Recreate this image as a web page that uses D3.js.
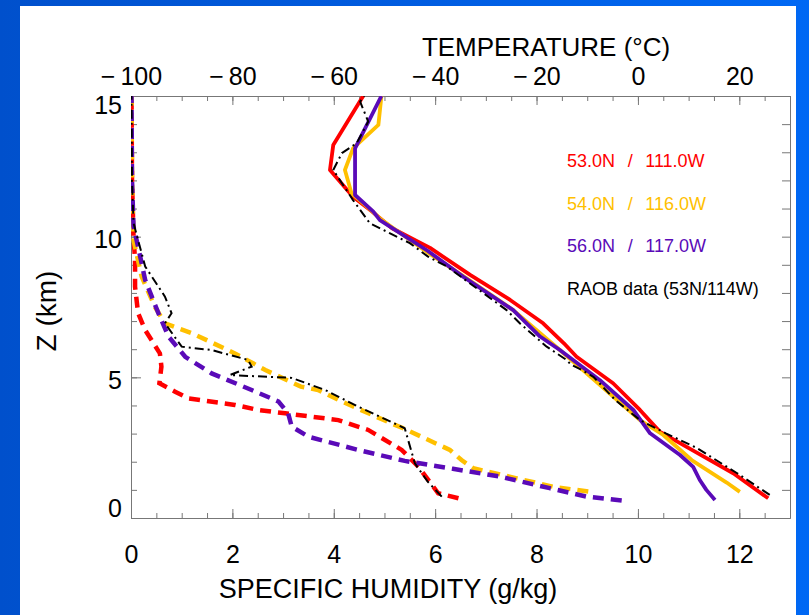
<!DOCTYPE html>
<html>
<head>
<meta charset="utf-8">
<script src="https://cdn.jsdelivr.net/npm/d3@7"></script>
<style>
body { margin: 0; background: #0058d8; }
text { font-family: "Liberation Sans", Arial, sans-serif; }
</style>
</head>
<body>
<div id="chart"></div>
<script>
// temperature profiles [T (C), Z (km)]
var tempRed = [[25.7,0.70],[18.8,1.59],[9.6,2.53],[4.3,3.07],[0.4,3.84],[-4.9,4.79],[-12.1,5.73],[-14.6,6.21],[-18.7,6.92],[-25.2,7.75],[-33.1,8.64],[-41,9.6],[-48.5,10.3],[-52.5,10.9],[-56.2,11.42],[-60.75,12.37],[-60.1,13.26],[-54.2,15.0]];
var tempOrange = [[20.1,0.93],[17.5,1.26],[10.6,2.06],[5.0,2.95],[0.4,3.48],[-8.6,4.9],[-15.4,5.97],[-24.6,7.39],[-34.3,8.58],[-42,9.5],[-50.5,10.59],[-53,11.0],[-56.5,11.54],[-57.8,12.37],[-56.2,13.14],[-51.2,13.97],[-50.6,15.0]];
var tempPurple = [[15.2,0.64],[13.5,1.0],[12.2,1.35],[10.9,1.82],[8.3,2.24],[2.4,3.01],[-0.9,3.84],[-7.5,4.9],[-15.4,5.97],[-19.3,6.45],[-24.6,7.39],[-34.5,8.58],[-41.5,9.5],[-50.9,10.59],[-52.2,10.89],[-55.8,11.48],[-55.8,13.14],[-50.6,15.0]];
var tempRaob = [[26,0.82],[19.5,1.6],[11.5,2.5],[5.5,3.01],[0.4,3.48],[-4.5,4.2],[-8.8,5.02],[-11.5,5.3],[-13.2,5.45],[-14.1,5.62],[-18,6.09],[-23.3,6.92],[-25.9,7.39],[-37.7,8.94],[-41.4,9.29],[-45,9.77],[-52.9,10.48],[-56.2,11.3],[-60.1,12.37],[-58.4,12.97],[-55.5,13.32],[-53.2,14.09],[-54.8,14.8],[-54,15.0]];

// specific humidity profiles [q (g/kg), Z (km)]
var humRed = [[6.46,0.70],[6.06,0.88],[5.67,1.82],[5.34,2.42],[4.68,3.13],[4.09,3.48],[3.04,3.72],[2.51,3.84],[2.05,4.02],[1.13,4.25],[0.87,4.49],[0.56,4.79],[0.6,5.38],[0.57,5.85],[0.28,6.68],[0.14,7.28],[0.08,8.22],[0.08,9.17],[0.05,10],[0.02,12],[0.01,15]];
var humOrange = [[9.02,0.94],[8.33,1.11],[7.61,1.41],[6.75,1.77],[6.52,2.06],[6.29,2.42],[5.8,2.83],[5.37,3.19],[5.14,3.36],[4.16,4.14],[3.69,4.55],[3.35,4.67],[2.65,5.26],[2.05,5.85],[1.2,6.57],[0.67,6.92],[0.47,7.51],[0.21,8.58],[0.05,9.88],[0.02,12],[0.01,15]];
var humPurple = [[9.68,0.62],[8.99,0.76],[8.26,1.06],[7.28,1.47],[6.35,1.75],[5.4,2.03],[4.48,2.42],[3.5,2.89],[3.17,3.25],[3.10,3.72],[2.91,4.14],[2.38,4.55],[1.59,5.14],[1.07,5.73],[0.74,6.45],[0.54,7.28],[0.28,8.46],[0.14,9.64],[0.05,10.36],[0.02,12],[0.01,15]];
var humRaob = [[6.13,0.76],[5.85,1.3],[5.6,1.94],[5.4,3.19],[4.48,3.96],[3.83,4.55],[3.17,4.98],[2.71,5.02],[1.95,5.08],[2.38,5.38],[2.31,5.62],[1.59,5.97],[1.0,6.09],[0.67,6.92],[0.8,7.28],[0.67,7.87],[0.28,8.94],[0.05,10.48],[0.02,12],[0.01,15]];

var legendLabels = ["53.0N\u2002\u2009/\u2002\u2009111.0W", "54.0N\u2002\u2009/\u2002\u2009116.0W", "56.0N\u2002\u2009/\u2002\u2009117.0W", "RAOB data (53N/114W)"];
var seriesColors = ["#ff0000", "#ffc000", "#5a0ab8", "#000000"];

var qTicks = [0, 2, 4, 6, 8, 10, 12];
var tTicks = [-100, -80, -60, -40, -20, 0, 20];
var zTicks = [0, 5, 10, 15];

var W = 809, H = 615;
var svg = d3.select("#chart").append("svg")
    .attr("width", W).attr("height", H);

// slide background
var grad = svg.append("defs").append("linearGradient").attr("id", "bg");
grad.append("stop").attr("offset", "0").attr("stop-color", "#0050cc");
grad.append("stop").attr("offset", "1").attr("stop-color", "#0068f4");
svg.append("rect").attr("width", W).attr("height", H).attr("fill", "url(#bg)");
svg.append("rect").attr("x", 20).attr("y", 6).attr("width", 776).attr("height", H - 6).attr("fill", "#fff");

// scales
var x = d3.scaleLinear().domain([0, 13]).range([131, 790]);
var t = d3.scaleLinear().domain([-100, 30]).range([131, 790]);
var y = d3.scaleLinear().domain([0, 15]).range([518, 96]);

var fmt = function(d) { return d < 0 ? "\u2212\u2009" + Math.abs(d) : d; };

function styleAxis(g) {
  g.select(".domain").attr("stroke", "#777").attr("stroke-width", 1);
  g.selectAll(".tick line").attr("stroke", "#777");
  g.selectAll("text").attr("fill", "#000").attr("font-family", "Liberation Sans, Arial, sans-serif");
}

// bottom axis
svg.append("g").attr("transform", "translate(0,518)")
  .call(d3.axisBottom(x).tickValues(d3.range(0, 13.01, 0.5)).tickSize(-5).tickSizeOuter(0).tickFormat(""))
  .call(styleAxis);
svg.append("g").attr("transform", "translate(0,518)")
  .call(d3.axisBottom(x).tickValues(qTicks).tickSize(-9).tickSizeOuter(0).tickPadding(27).tickFormat(fmt))
  .call(styleAxis)
  .selectAll("text").attr("font-size", 25);

// top axis
svg.append("g").attr("transform", "translate(0,96)")
  .call(d3.axisTop(t).tickValues(d3.range(-100, 30.1, 5)).tickSize(-5).tickSizeOuter(0).tickFormat(""))
  .call(styleAxis);
svg.append("g").attr("transform", "translate(0,96)")
  .call(d3.axisTop(t).tickValues(tTicks).tickSize(-9).tickSizeOuter(0).tickPadding(11).tickFormat(fmt))
  .call(styleAxis)
  .selectAll("text").attr("font-size", 25);

// left axis
svg.append("g").attr("transform", "translate(131,0)")
  .call(d3.axisLeft(y).tickValues(d3.range(0, 15.1, 1)).tickSize(-6).tickSizeOuter(0).tickFormat(""))
  .call(styleAxis);
svg.append("g").attr("transform", "translate(131,0)")
  .call(d3.axisLeft(y).tickValues(zTicks).tickSize(-10).tickSizeOuter(0).tickPadding(9))
  .call(styleAxis)
  .selectAll("text").attr("font-size", 25)
  .attr("y", function(d) { return Math.min(Math.max(y(d) + 3, 105), 508) - y(d); });

// right axis
svg.append("g").attr("transform", "translate(790,0)")
  .call(d3.axisRight(y).tickValues(d3.range(0, 15.1, 1)).tickSize(-8).tickSizeOuter(0).tickFormat(""))
  .call(styleAxis);

// axis titles
svg.append("text").attr("x", 546).attr("y", 56).attr("text-anchor", "middle")
  .attr("font-size", 26).text("TEMPERATURE (\u00b0C)");
svg.append("text").attr("x", 388).attr("y", 598).attr("text-anchor", "middle")
  .attr("font-size", 27).text("SPECIFIC HUMIDITY (g/kg)");
svg.append("text").attr("transform", "translate(56,311) rotate(-90)").attr("text-anchor", "middle")
  .attr("font-size", 28).text("Z (km)");

// profiles
var clip = svg.append("clipPath").attr("id", "plot")
  .append("rect").attr("x", 131).attr("y", 96).attr("width", 659).attr("height", 422);

var humLine = d3.line().x(function(d) { return x(d[0]); }).y(function(d) { return y(d[1]); });
var tempLine = d3.line().x(function(d) { return t(d[0]); }).y(function(d) { return y(d[1]); });

var humSeries = [humRed, humOrange, humPurple, humRaob];
var tempSeries = [tempRed, tempOrange, tempPurple, tempRaob];

var plot = svg.append("g").attr("clip-path", "url(#plot)");

humSeries.forEach(function(s, i) {
  var raob = i == 3;
  plot.append("path").datum(s)
    .attr("d", humLine)
    .attr("fill", "none")
    .attr("stroke", seriesColors[i])
    .attr("stroke-width", raob ? 2 : 4.5)
    .attr("stroke-dasharray", raob ? "9,4,2,4" : "11,7");
});

tempSeries.forEach(function(s, i) {
  var raob = i == 3;
  plot.append("path").datum(s)
    .attr("d", tempLine)
    .attr("fill", "none")
    .attr("stroke", seriesColors[i])
    .attr("stroke-width", raob ? 2 : 3.8)
    .attr("stroke-linejoin", "round")
    .attr("stroke-dasharray", raob ? "9,4,2,4" : null);
});

// legend
svg.selectAll(".legend").data(legendLabels).enter().append("text")
  .attr("class", "legend")
  .attr("x", 567)
  .attr("y", function(d, i) { return 167 + i * 42.7; })
  .attr("font-size", 18)
  .attr("fill", function(d, i) { return seriesColors[i]; })
  .text(function(d) { return d; });
</script>
</body>
</html>
